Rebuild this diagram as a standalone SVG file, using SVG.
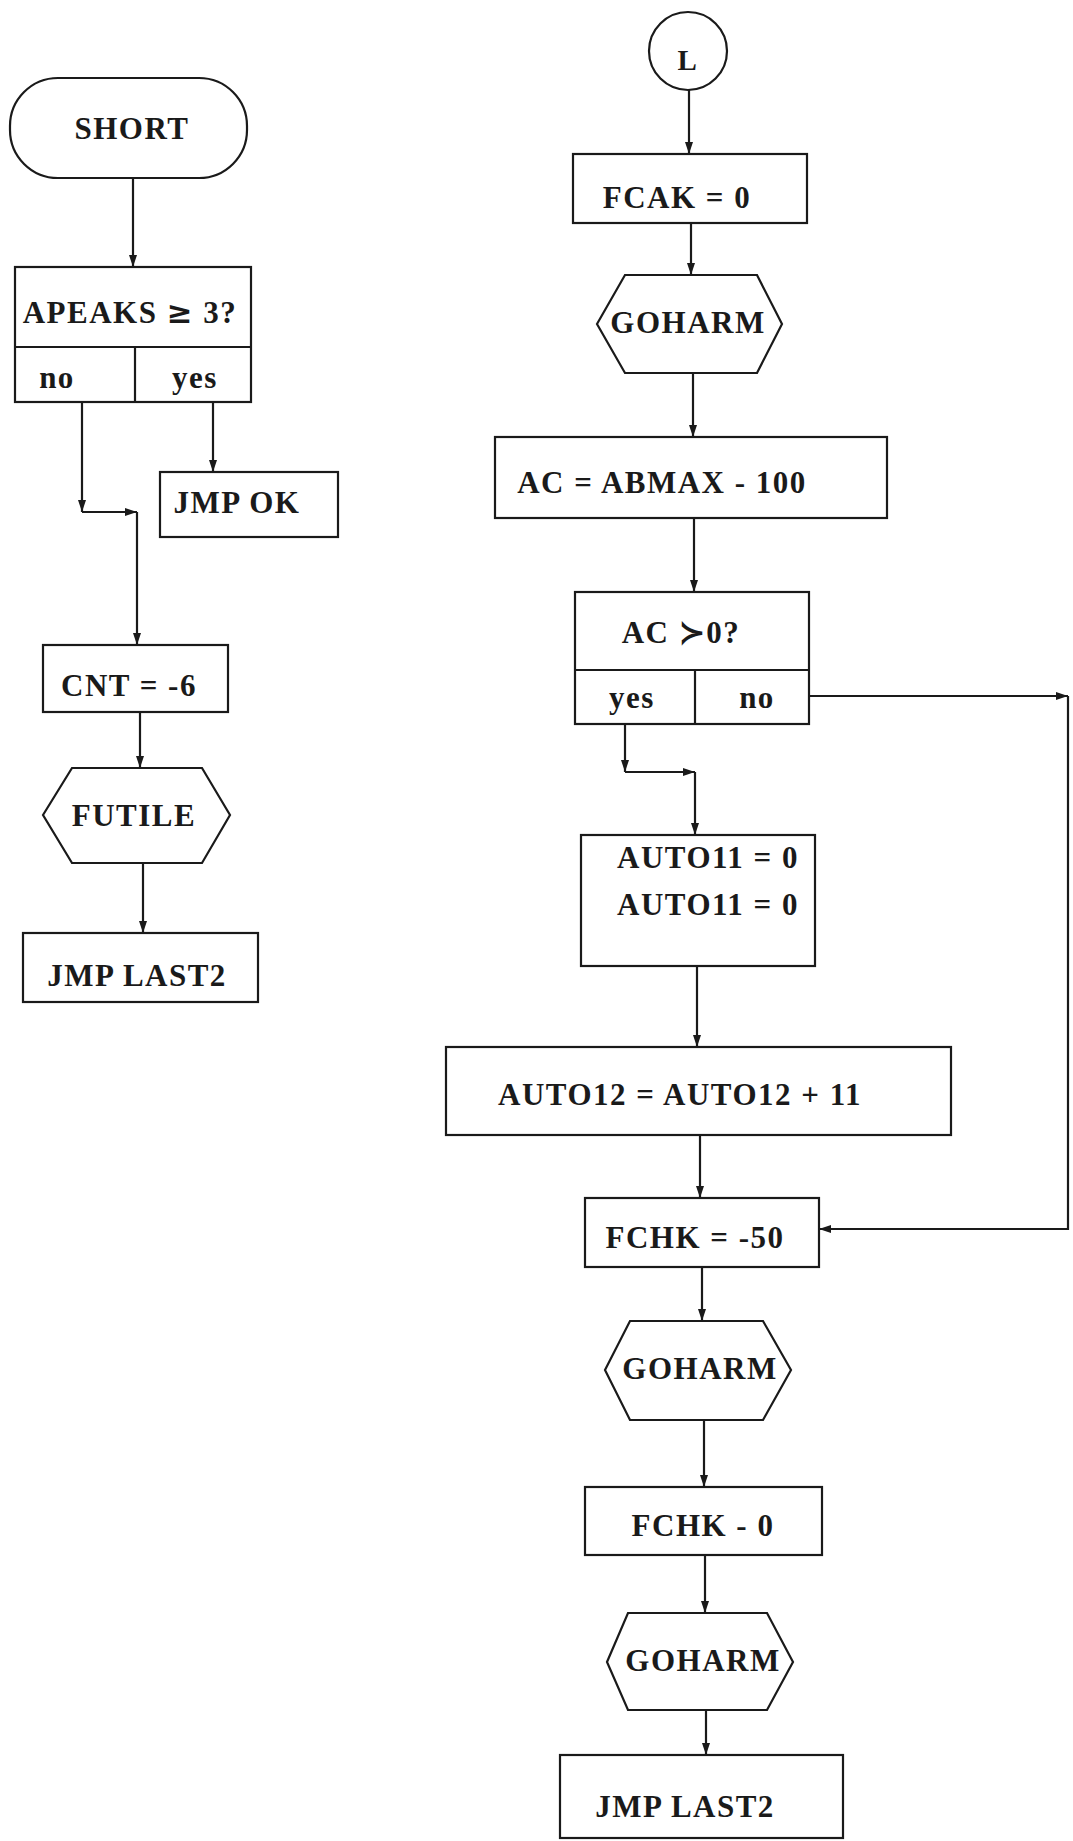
<svg xmlns="http://www.w3.org/2000/svg" width="1073" height="1841" viewBox="0 0 1073 1841">
<style>
.s{fill:none;stroke:#1a1a1a;stroke-width:2.2;stroke-linejoin:miter}
.c{fill:none;stroke:#1a1a1a;stroke-width:2.2}
.t{font-family:"Liberation Serif","Times New Roman",serif;font-weight:bold;font-size:31px;letter-spacing:1.5px;fill:#1a1a1a;text-anchor:middle}
.sym{font-family:"DejaVu Serif","Liberation Serif",serif}
</style>
<defs>
<marker id="ah" viewBox="0 0 12 10" refX="12" refY="5" markerWidth="12" markerHeight="10" markerUnits="userSpaceOnUse" orient="auto">
<path d="M0,1 L12,5 L0,9 Z" fill="#1a1a1a"/>
</marker>
</defs>
<rect x="0" y="0" width="1073" height="1841" fill="#ffffff"/>

<g id="connectors">
<path class="c" d="M133,178 V267" marker-end="url(#ah)"/>
<path class="c" d="M213,402 V472" marker-end="url(#ah)"/>
<path class="c" d="M82,402 V512" marker-end="url(#ah)"/>
<path class="c" d="M82,512 H137" marker-end="url(#ah)"/>
<path class="c" d="M137,512 V645" marker-end="url(#ah)"/>
<path class="c" d="M140,712 V768" marker-end="url(#ah)"/>
<path class="c" d="M143,863 V933" marker-end="url(#ah)"/>
<path class="c" d="M689,90 V154" marker-end="url(#ah)"/>
<path class="c" d="M691,223 V275" marker-end="url(#ah)"/>
<path class="c" d="M693,373 V437" marker-end="url(#ah)"/>
<path class="c" d="M694,518 V592" marker-end="url(#ah)"/>
<path class="c" d="M625,724 V772" marker-end="url(#ah)"/>
<path class="c" d="M625,772 H695" marker-end="url(#ah)"/>
<path class="c" d="M695,772 V835" marker-end="url(#ah)"/>
<path class="c" d="M809,696 H1068" marker-end="url(#ah)"/>
<path class="c" d="M1068,696 V1229 H819" marker-end="url(#ah)"/>
<path class="c" d="M697,966 V1047" marker-end="url(#ah)"/>
<path class="c" d="M700,1135 V1198" marker-end="url(#ah)"/>
<path class="c" d="M702,1267 V1321" marker-end="url(#ah)"/>
<path class="c" d="M704,1420 V1487" marker-end="url(#ah)"/>
<path class="c" d="M705,1555 V1613" marker-end="url(#ah)"/>
<path class="c" d="M706,1710 V1755" marker-end="url(#ah)"/>
</g>

<g id="short">
<rect class="s" x="10" y="78" width="237" height="100" rx="48" ry="48"/>
<text class="t" x="132" y="139">SHORT</text>
</g>

<g id="apeaks">
<rect class="s" x="15" y="267" width="236" height="135"/>
<line class="s" x1="15" y1="347" x2="251" y2="347"/>
<line class="s" x1="135" y1="347" x2="135" y2="402"/>
<text class="t" x="130" y="323">APEAKS <tspan class="sym">≥</tspan> 3?</text>
<text class="t" x="57" y="388">no</text>
<text class="t" x="195" y="388">yes</text>
</g>

<g id="jmpok">
<rect class="s" x="160" y="472" width="178" height="65"/>
<text class="t" x="237" y="513">JMP OK</text>
</g>

<g id="cnt">
<rect class="s" x="43" y="645" width="185" height="67"/>
<text class="t" x="129" y="696">CNT = -6</text>
</g>

<g id="futile">
<polygon class="s" points="43,815 72,768 202,768 230,815 202,863 72,863"/>
<text class="t" x="134" y="826">FUTILE</text>
</g>

<g id="jmplast2a">
<rect class="s" x="23" y="933" width="235" height="69"/>
<text class="t" x="137" y="986">JMP LAST2</text>
</g>

<g id="connL">
<circle class="s" cx="688" cy="51" r="39"/>
<text class="t" x="688" y="70" style="font-size:29px">L</text>
</g>

<g id="fcak">
<rect class="s" x="573" y="154" width="234" height="69"/>
<text class="t" x="677" y="208">FCAK = 0</text>
</g>

<g id="goharm1">
<polygon class="s" points="597,324 625,275 757,275 782,324 757,373 625,373"/>
<text class="t" x="688" y="333">GOHARM</text>
</g>

<g id="acabmax">
<rect class="s" x="495" y="437" width="392" height="81"/>
<text class="t" x="662" y="493">AC = ABMAX - 100</text>
</g>

<g id="acgt0">
<rect class="s" x="575" y="592" width="234" height="132"/>
<line class="s" x1="575" y1="670" x2="809" y2="670"/>
<line class="s" x1="695" y1="670" x2="695" y2="724"/>
<text class="t" x="681" y="643">AC <tspan class="sym">≻</tspan>0?</text>
<text class="t" x="632" y="708">yes</text>
<text class="t" x="757" y="708">no</text>
</g>

<g id="auto11">
<rect class="s" x="581" y="835" width="234" height="131"/>
<text class="t" x="708" y="868">AUTO11 = 0</text>
<text class="t" x="708" y="915">AUTO11 = 0</text>
</g>

<g id="auto12">
<rect class="s" x="446" y="1047" width="505" height="88"/>
<text class="t" x="680" y="1105">AUTO12 = AUTO12 + 11</text>
</g>

<g id="fchk50">
<rect class="s" x="585" y="1198" width="234" height="69"/>
<text class="t" x="695" y="1248">FCHK = -50</text>
</g>

<g id="goharm2">
<polygon class="s" points="605,1370 630,1321 763,1321 791,1370 763,1420 630,1420"/>
<text class="t" x="700" y="1379">GOHARM</text>
</g>

<g id="fchk0">
<rect class="s" x="585" y="1487" width="237" height="68"/>
<text class="t" x="703" y="1536">FCHK - 0</text>
</g>

<g id="goharm3">
<polygon class="s" points="607,1662 628,1613 767,1613 793,1662 767,1710 628,1710"/>
<text class="t" x="703" y="1671">GOHARM</text>
</g>

<g id="jmplast2b">
<rect class="s" x="560" y="1755" width="283" height="83"/>
<text class="t" x="685" y="1817">JMP LAST2</text>
</g>
</svg>
